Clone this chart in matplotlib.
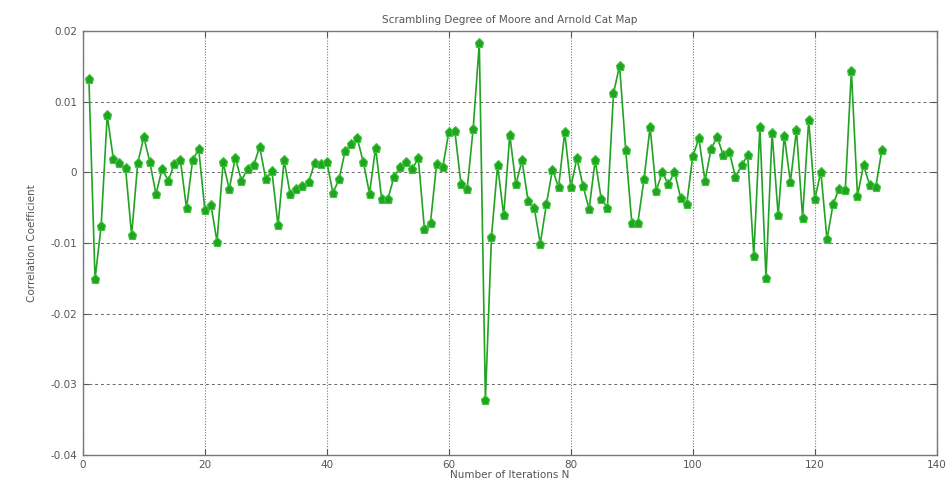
import matplotlib
matplotlib.use("Agg")
import matplotlib.pyplot as plt

# -----------------------------
# Data
# -----------------------------

iterations = list(range(1, 132))

correlation = [
    0.0132, -0.0151, -0.0076, 0.0081, 0.0019, 0.0013, 0.0006, -0.0089, 0.0013, 0.0050,
    0.0014, -0.0031, 0.0005, -0.0012, 0.0012, 0.0017, -0.0051, 0.0017, 0.0033, -0.0053,
    -0.0046, -0.0098, 0.0014, -0.0024, 0.0021, -0.0012, 0.0005, 0.0010, 0.0036, -0.0010,
    0.0002, -0.0075, 0.0017, -0.0031, -0.0024, -0.0019, -0.0014, 0.0013, 0.0012, 0.0015,
    -0.0029, -0.0010, 0.0030, 0.0040, 0.0048, 0.0014, -0.0030, 0.0035, -0.0038, -0.0038,
    -0.0007, 0.0007, 0.0015, 0.0005, 0.0020, -0.0080, -0.0071, 0.0012, 0.0007, 0.0057,
    0.0058, -0.0017, -0.0024, 0.0062, 0.0183, -0.0322, -0.0091, 0.0010, -0.0061, 0.0053,
    -0.0017, 0.0017, -0.0040, -0.0050, -0.0101, -0.0045, 0.0004, -0.0021, 0.0057, -0.0021,
    0.0020, -0.0019, -0.0052, 0.0017, -0.0038, -0.0050, 0.0112, 0.0151, 0.0032, -0.0071,
    -0.0071, -0.0010, 0.0064, -0.0026, 0.0000, -0.0017, 0.0001, -0.0036, -0.0045, 0.0023,
    0.0048, -0.0012, 0.0033, 0.0050, 0.0024, 0.0029, -0.0007, 0.0010, 0.0024, -0.0118,
    0.0064, -0.0150, 0.0056, -0.0061, 0.0052, -0.0014, 0.0060, -0.0064, 0.0074, -0.0038,
    0.0001, -0.0095, -0.0045, -0.0023, -0.0025, 0.0144, -0.0033, 0.0010, -0.0018, -0.0021,
    0.0032,
]

x_ticks = [0, 20, 40, 60, 80, 100, 120, 140]
y_ticks = [-0.04, -0.03, -0.02, -0.01, 0, 0.01, 0.02]
y_tick_labels = ["-0.04", "-0.03", "-0.02", "-0.01", "0", "0.01", "0.02"]

# -----------------------------
# Plot
# -----------------------------

text_color = "#555555"

fig = plt.figure(figsize=(9.52, 4.86), dpi=100)
ax = fig.add_axes([0.087, 0.064, 0.897, 0.872])

ax.plot(
    iterations,
    correlation,
    color="#22a322",
    linewidth=1.2,
    marker="p",
    markersize=6.5,
    markerfacecolor="#22a322",
    markeredgecolor="#3cc83c",
    markeredgewidth=0.8,
    zorder=3,
)

ax.set_xlim(0, 140)
ax.set_ylim(-0.04, 0.02)
ax.set_xticks(x_ticks)
ax.set_yticks(y_ticks)
ax.set_yticklabels(y_tick_labels)

# horizontal grid dashed, vertical grid dotted (MATLAB look)
ax.grid(True, axis="y", color="#666666", linestyle=(0, (3, 3)), linewidth=0.7)
ax.grid(True, axis="x", color="#777777", linestyle=(0, (1, 1.5)), linewidth=0.8)

for spine in ax.spines.values():
    spine.set_color("#777777")
    spine.set_linewidth(1.0)

ax.tick_params(
    direction="in",
    length=4,
    labelsize=7.5,
    colors=text_color,
    top=True,
    right=True,
    pad=4,
)

ax.set_title(
    "Scrambling Degree of Moore and Arnold Cat Map",
    fontsize=7.5,
    color=text_color,
    pad=6,
)
ax.set_xlabel("Number of Iterations N", fontsize=7.5, color=text_color, labelpad=0)
ax.set_ylabel("Correlation Coefficient", fontsize=7.5, color=text_color, labelpad=10)

fig.savefig("out.png", dpi=100)
